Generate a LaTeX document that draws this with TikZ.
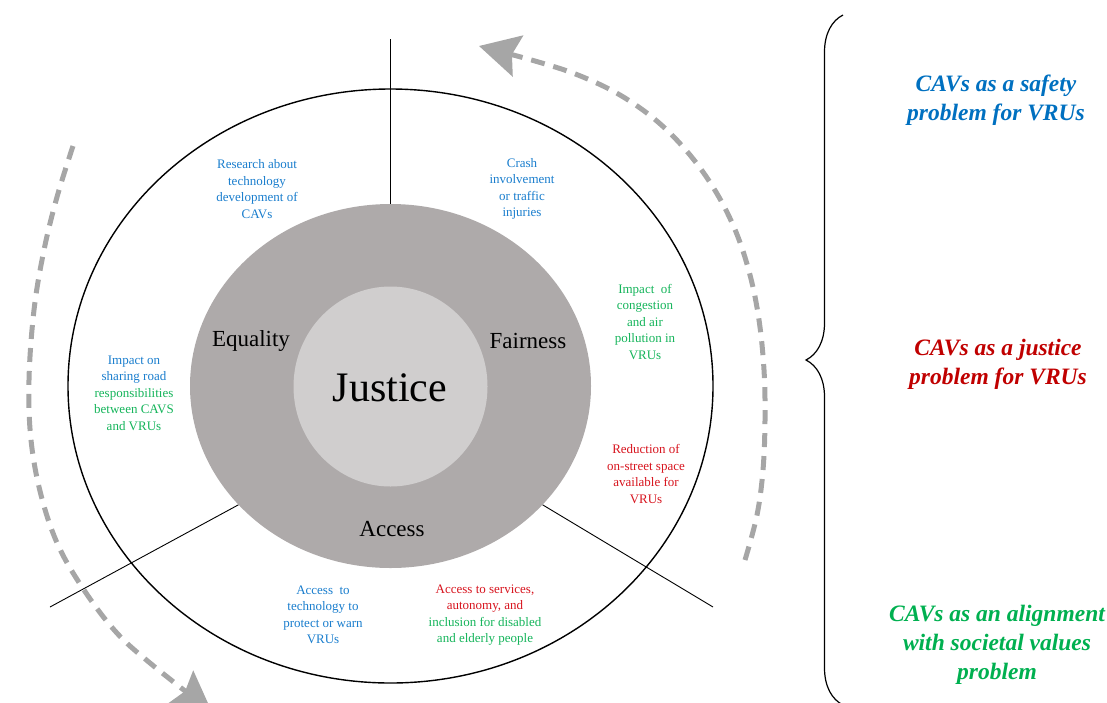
\documentclass[tikz,border=0pt]{standalone}
\usepackage{fontspec}
\setmainfont{Liberation Serif}
\usetikzlibrary{arrows.meta,shapes.geometric,decorations.pathreplacing}
\definecolor{blueB}{RGB}{0,112,192}
\definecolor{blueS}{RGB}{25,125,205}
\definecolor{greenB}{RGB}{0,176,80}
\definecolor{greenS}{RGB}{20,180,90}
\definecolor{redB}{RGB}{192,0,0}
\definecolor{redS}{RGB}{215,20,30}
\definecolor{grayD}{RGB}{174,170,170}
\definecolor{grayL}{RGB}{208,206,206}
\definecolor{grayA}{RGB}{166,166,166}
\tikzset{
  small/.style={align=center, inner sep=0pt, font=\fontsize{13}{16.5}\selectfont},
  ringlbl/.style={inner sep=0pt, font=\fontsize{23}{27}\selectfont},
  big/.style={align=center, inner sep=0pt, font=\bfseries\itshape\fontsize{23.5}{29}\selectfont},
  dasharrow/.style={draw=grayA, line width=5pt, dash pattern=on 14pt off 9pt,
    -{Stealth[length=40pt 0, width=42pt 0, inset=6pt 0]}},
  spoke/.style={draw=black, line width=0.9pt}
}
\begin{document}
\begin{tikzpicture}[x=1pt,y=-1pt]
\useasboundingbox (0,0) rectangle (1107,702);
% circles
\node[ellipse, draw=black, line width=1.4pt, minimum width=645pt, minimum height=594pt, inner sep=0pt] (outer) at (390.5,386) {};
\node[ellipse, fill=grayD, minimum width=401pt, minimum height=364pt, inner sep=0pt] (ring) at (390.5,386) {};
\node[ellipse, fill=grayL, minimum width=194pt, minimum height=200pt, inner sep=0pt] (core) at (390.5,386.5) {};
\node[inner sep=0pt, font=\fontsize{42}{46}\selectfont] (justice) at (390,388) {Justice};
\node[ringlbl] (equality) at (251,341) {Equality};
\node[ringlbl] (fairness) at (528,341) {Fairness};
\node[ringlbl] (access) at (392,529) {Access};
% spokes
\coordinate (vtop) at (390.5,39);
\coordinate (llend) at (50,607);
\coordinate (lrend) at (713,607);
\draw[spoke] (vtop) -- (ring.north);
\draw[spoke] (ring.-142) -- (llend);
\draw[spoke] (ring.-38) -- (lrend);
% small labels
\node[small, text=blueS] (research) at (257,189) {Research about\\technology\\development of\\CAVs};
\node[small, text=blueS] (crash) at (522,189) {Crash\\involvement\\or traffic\\injuries};
\node[small, text=greenS] (congestion) at (645,322) {Impact~~of\\congestion\\and air\\pollution in\\VRUs};
\node[small, text=redS] (reduction) at (646,474) {Reduction of\\on-street space\\available for\\VRUs};
\node[small] (sharing) at (134,393) {\textcolor{blueS}{Impact on}\\\textcolor{blueS}{sharing road}\\\textcolor{greenS}{responsibilities}\\\textcolor{greenS}{between CAVS}\\\textcolor{greenS}{and VRUs}};
\node[small, text=blueS] (techaccess) at (323,615) {Access~~to\\technology to\\protect or warn\\VRUs};
\node[small] (services) at (485,615) {\textcolor{redS}{Access to services,}\\\textcolor{redS}{autonomy, and}\\\textcolor{greenS}{inclusion for disabled}\\\textcolor{greenS}{and elderly people}};
% dashed arrows
\draw[dasharrow] plot[smooth, tension=0.6] coordinates {(745,560) (757,515) (763,470) (765,420) (764,370) (759,320) (750,275) (736,232) (716,192) (690,155) (658,122) (620,95) (578,75) (535,61) (479,46)};
\draw[dasharrow] plot[smooth, tension=0.6] coordinates {(73,146) (57,197) (44,250) (34,310) (29,380) (31,440) (41,495) (58,545) (84,590) (116,632) (150,663) (212,712)};
% brace
\coordinate (bbot) at (843,705);
\coordinate (btop) at (843,15);
\draw[decorate, decoration={brace, amplitude=37pt}, line width=1.2pt] (bbot) -- (btop);
% right labels
\node[big, text=blueB] (safety) at (996,100) {CAVs as a safety\\problem for VRUs};
\node[big, text=redB] (justiceprob) at (998,364) {CAVs as a justice\\problem for VRUs};
\node[big, text=greenB] (alignment) at (997,645) {CAVs as an alignment\\with societal values\\problem};
\end{tikzpicture}
\end{document}
